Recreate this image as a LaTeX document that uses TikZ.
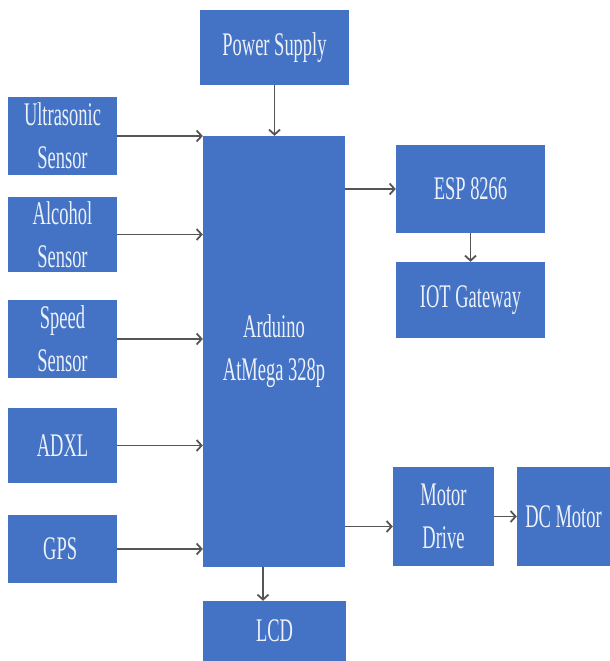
\documentclass[tikz,border=0pt]{standalone}
\usepackage{fontspec}
\usetikzlibrary{arrows.meta}
\newfontfamily\blockfont[FakeStretch=0.56]{Liberation Serif}

\begin{document}
\begin{tikzpicture}[
    x=1pt, y=-1pt,
    % Estilo de los bloques
    block/.style={
        fill=blockblue, text=blocktext, inner sep=0pt,
        align=center, font=\blockfont\fontsize{33}{43}\selectfont
    },
    % Estilo de las flechas
    link/.style={
        draw=linkgrey, line width=1.8pt,
        -{Straight Barb[length=5pt,width=11pt]}
    }
]
    % Colores
    \definecolor{blockblue}{RGB}{68, 114, 196}
    \definecolor{blocktext}{RGB}{236, 241, 250}
    \definecolor{linkgrey}{RGB}{85, 85, 85}

    % Tamaño del lienzo
    \useasboundingbox (0,0) rectangle (610,661);

    % Bloque central y alimentación
    \node[block, minimum width=142pt, minimum height=431pt] (arduino) at (274,351.5) {Arduino\\AtMega 328p};
    \node[block, minimum width=149pt, minimum height=75pt] (power) at (274.5,47.5) {Power Supply};
    \node[block, minimum width=143pt, minimum height=60pt] (lcd) at (274.5,631) {LCD};

    % Sensores de entrada
    % Parámetros: {nombre / centro y / alto / texto}
    \foreach \name/\cy/\h/\label in {
        ultra/136/78/{Ultrasonic\\Sensor},
        alcohol/234.5/75/{Alcohol\\Sensor},
        speed/339/78/{Speed\\Sensor},
        adxl/445.5/75/ADXL,
        gps/549/68/GPS
    }{
        \node[block, minimum width=109pt, minimum height=\h pt] (\name) at (62.5,\cy) {\label};
    }

    % Salidas
    \node[block, minimum width=149pt, minimum height=88pt] (esp) at (470.5,189) {ESP 8266};
    \node[block, minimum width=149pt, minimum height=76pt] (iot) at (470.5,300) {IOT Gateway};
    \node[block, minimum width=101pt, minimum height=99pt] (drive) at (443.5,516.5) {Motor\\Drive};
    \node[block, minimum width=93pt, minimum height=99pt] (motor) at (563.5,516.5) {DC Motor};

    % Flechas de los sensores al Arduino
    \foreach \name in {ultra, alcohol, speed, adxl, gps}
        \draw[link] (\name.east) -- (\name.east -| arduino.west);

    % Resto de conexiones
    \draw[link] (power.south) -- (power.south |- arduino.north);
    \draw[link] (esp.west -| arduino.east) -- (esp.west);
    \draw[link] (esp.south) -- (esp.south |- iot.north);
    \draw[link] ([yshift=-10pt]drive.west -| arduino.east) -- ([yshift=-10pt]drive.west);
    \draw[link] (drive.east) -- (motor.west);
    \draw[link] ([xshift=-11pt]arduino.south) -- ([xshift=-11pt]arduino.south |- lcd.north);

\end{tikzpicture}
\end{document}
